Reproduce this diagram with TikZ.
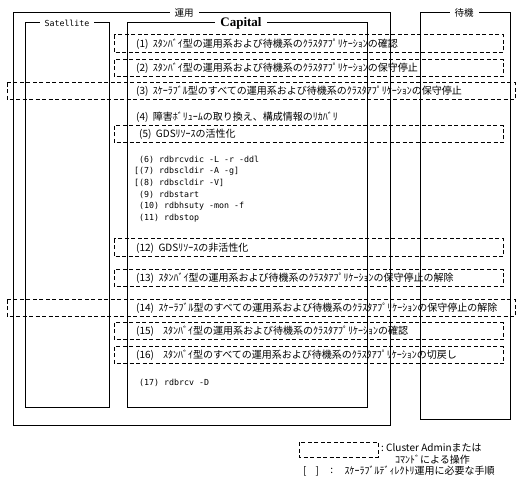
\documentclass[tikz,border=0pt]{standalone}
\usepackage{fontspec}
\setmainfont{Noto Sans CJK JP}
\newfontfamily\capfont{Liberation Serif}
\newfontfamily\cmdfont{DejaVu Sans Mono}
\usetikzlibrary{positioning}
\definecolor{ink}{HTML}{000000}
\tikzset{
  frame/.style = {draw=ink, line width=1pt},
  dbox/.style  = {draw=ink, line width=1pt, dash pattern=on 4pt off 2.5pt},
  ttl/.style   = {fill=white, inner xsep=5pt, inner ysep=1pt,
                  font=\fontsize{9.5}{11}\selectfont, text=ink},
  txt/.style   = {anchor=west, inner sep=0pt,
                  font=\fontsize{10}{12}\selectfont, text=ink},
  cmd/.style   = {txt, font=\cmdfont\fontsize{8.3}{10}\selectfont},
}
\begin{document}
\begin{tikzpicture}[x=1pt, y=-1pt]
  \useasboundingbox (0,0) rectangle (525,486);
  % frames
  \draw[frame] (13,13) rectangle (390,425);
  \draw[frame] (420,13) rectangle (510,419);
  \draw[frame] (25,23) rectangle (109,407);
  \draw[frame] (127,23) rectangle (367,407);
  \node[ttl] (unyou) at (184,13) {運用};
  \node[ttl] (taiki) at (464,13) {待機};
  \node[ttl, font=\cmdfont\fontsize{8.3}{10}\selectfont] (sat) at (67,23) {Satellite};
  \node[ttl, font=\capfont\bfseries\fontsize{13}{14}\selectfont, inner ysep=0pt] (cap) at (241,23) {Capital};

  % Cluster Admin steps
  \draw[dbox] (114,35) rectangle (503,53);
  \draw[dbox] (114,60) rectangle (503,77);
  \draw[dbox] (7,83) rectangle (515,100);
  \draw[dbox] (114,126) rectangle (503,143);
  \draw[dbox] (114,239) rectangle (503,257);
  \draw[dbox] (114,270) rectangle (503,287);
  \draw[dbox] (7,300) rectangle (515,317);
  \draw[dbox] (114,323) rectangle (503,340);
  \draw[dbox] (114,347) rectangle (503,364);

  \node[txt] (s1) at (136,44) {(1)~~ｽﾀﾝﾊﾞｲ型の運用系および待機系のｸﾗｽﾀｱﾌﾟﾘｹｰｼｮﾝの確認};
  \node[txt] (s2) at (136,68.5) {(2)~~ｽﾀﾝﾊﾞｲ型の運用系および待機系のｸﾗｽﾀｱﾌﾟﾘｹｰｼｮﾝの保守停止};
  \node[txt] (s3) at (136,91.5) {(3)~~ｽｹｰﾗﾌﾞﾙ型のすべての運用系および待機系のｸﾗｽﾀｱﾌﾟﾘｹｰｼｮﾝの保守停止};
  \node[txt] (s4) at (136,117) {(4)~~障害ﾎﾞﾘｭｰﾑの取り換え、構成情報のﾘｶﾊﾞﾘ};
  \node[txt] (s5) at (139,134.5) {(5)~~GDSﾘｿｰｽの活性化};

  % commands
  \node[cmd] (s6) at (134,160) {~(6) rdbrcvdic -L -r -ddl};
  \node[cmd] (s7) at (134,171.5) {[(7) rdbscldir -A -g]};
  \node[cmd] (s8) at (134,183) {[(8) rdbscldir -V]};
  \node[cmd] (s9) at (134,195) {~(9) rdbstart};
  \node[cmd] (s10) at (134,206.5) {~(10) rdbhsuty -mon -f};
  \node[cmd] (s11) at (134,218) {~(11) rdbstop};

  \node[txt] (s12) at (136,248) {(12)~~GDSﾘｿｰｽの非活性化};
  \node[txt] (s13) at (136,278.5) {(13)~~ｽﾀﾝﾊﾞｲ型の運用系および待機系のｸﾗｽﾀｱﾌﾟﾘｹｰｼｮﾝの保守停止の解除};
  \node[txt] (s14) at (136,308.5) {(14)~~ｽｹｰﾗﾌﾞﾙ型のすべての運用系および待機系のｸﾗｽﾀｱﾌﾟﾘｹｰｼｮﾝの保守停止の解除};
  \node[txt] (s15) at (136,331.5) {(15)~~~~ｽﾀﾝﾊﾞｲ型の運用系および待機系のｸﾗｽﾀｱﾌﾟﾘｹｰｼｮﾝの確認};
  \node[txt] (s16) at (136,355.5) {(16)~~~~ｽﾀﾝﾊﾞｲ型のすべての運用系および待機系のｸﾗｽﾀｱﾌﾟﾘｹｰｼｮﾝの切戻し};
  \node[cmd] (s17) at (139,383) {(17) rdbrcv -D};

  % legend
  \draw[dbox] (299,442) rectangle (378,457);
  \node[txt] (leg1) at (381,448) {:~Cluster Adminまたは};
  \node[txt] (leg2) at (395,460) {ｺﾏﾝﾄﾞによる操作};
  \node[txt] (leg3) at (303,471) {[~~~~]};
  \node[txt, right=11pt of leg3] (leg4) {:};
  \node[txt, right=11pt of leg4] (leg5) {ｽｹｰﾗﾌﾞﾙﾃﾞｨﾚｸﾄﾘ運用に必要な手順};
\end{tikzpicture}
\end{document}
